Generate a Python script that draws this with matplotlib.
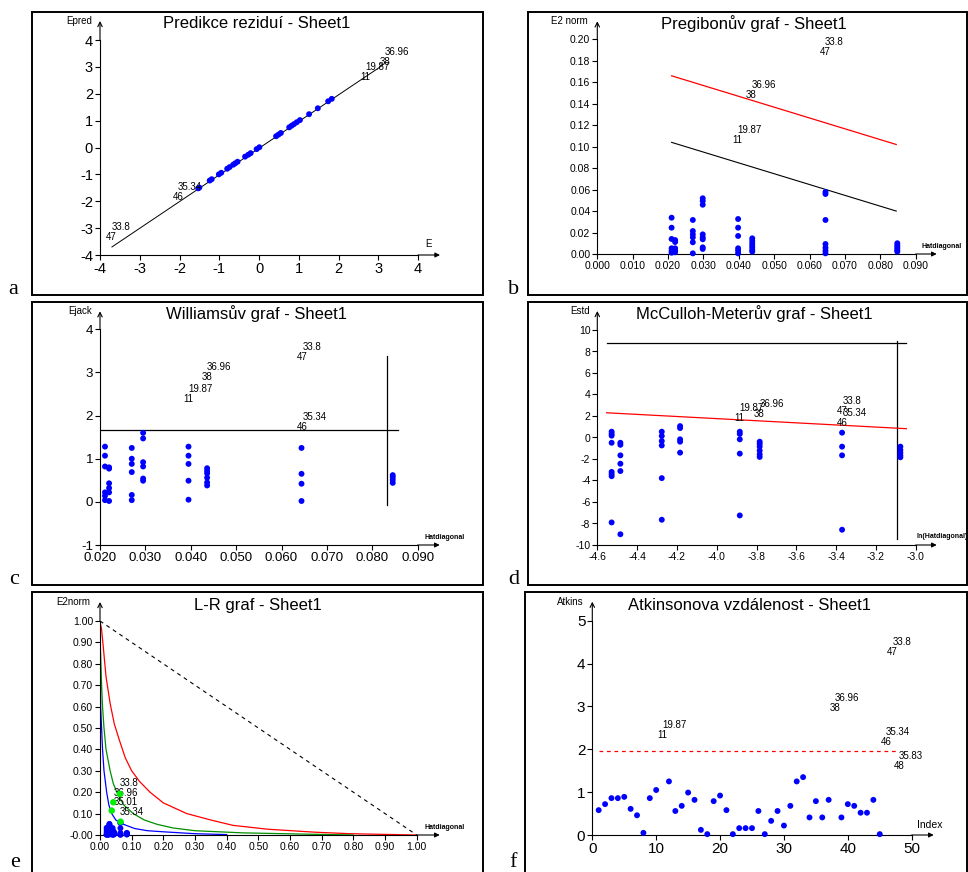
import matplotlib
matplotlib.use('Agg')
import matplotlib.pyplot as plt
from matplotlib.patches import Rectangle

plt.rcParams['font.family'] = ['Liberation Sans', 'DejaVu Sans']

W, H = 968, 872
BLUE = '#0000ff'
RED = '#ff0000'

# --- a) Predikce reziduí
a_e = [-1.53, -1.50, -1.24, -1.19, -1.01, -0.95, -0.80, -0.74, -0.65, -0.60, -0.54,
       -0.35, -0.27, -0.21, -0.06, 0.01, 0.43, 0.49, 0.55, 0.76, 0.82, 0.88, 0.95,
       1.03, 1.26, 1.48, 1.74, 1.83]
a_pred = [-1.52, -1.49, -1.23, -1.18, -1.00, -0.94, -0.79, -0.73, -0.64, -0.59, -0.53,
          -0.34, -0.27, -0.21, -0.06, 0.01, 0.42, 0.48, 0.54, 0.75, 0.81, 0.87, 0.94,
          1.02, 1.24, 1.46, 1.72, 1.81]
a_line_e = [-3.7, 3.1]
a_line_pred = [-3.7, 3.05]
a_out_x = [-3.71, -2.04, 2.67, 3.16]
a_out_y = [-3.53, -2.02, 2.45, 3.01]
a_out_val = ['33.8', '35.34', '19.87', '36.96']
a_out_idx = ['47', '46', '11', '38']
a_ticks = [-4, -3, -2, -1, 0, 1, 2, 3, 4]

# --- b) Pregibonův graf (hat diagonal vs. E2 norm), reused in e)
b_groups = [0.0210, 0.0220, 0.0270, 0.0298, 0.0398, 0.0438, 0.0645, 0.0848]
b_vals = [
    [0.0338, 0.0245, 0.0140, 0.0053, 0.0031, 0.0012],
    [0.0130, 0.0112, 0.0053, 0.0031, 0.0016],
    [0.0317, 0.0214, 0.0183, 0.0155, 0.0109, 0.0006],
    [0.0519, 0.0494, 0.0459, 0.0183, 0.0155, 0.0137, 0.0062, 0.0047],
    [0.0326, 0.0245, 0.0168, 0.0053, 0.0031, 0.0006],
    [0.0146, 0.0124, 0.0100, 0.0078, 0.0059, 0.0037, 0.0022],
    [0.0578, 0.0559, 0.0317, 0.0093, 0.0059, 0.0031, 0.0006],
    [0.0100, 0.0081, 0.0065, 0.0050, 0.0034, 0.0022],
]
b_red_x = [0.0210, 0.0845]
b_red_y = [0.166, 0.102]
b_black_x = [0.0210, 0.0845]
b_black_y = [0.104, 0.040]
b_out_x = [0.0643, 0.0436, 0.0396]
b_out_y = [0.1832, 0.1435, 0.1015]
b_out_val = ['33.8', '36.96', '19.87']
b_out_idx = ['47', '38', '11']
b_xticks = [0.0, 0.01, 0.02, 0.03, 0.04, 0.05, 0.06, 0.07, 0.08, 0.09]
b_yticks = [0.0, 0.02, 0.04, 0.06, 0.08, 0.10, 0.12, 0.14, 0.16, 0.18, 0.20]

# --- c) Williamsův graf
c_groups = [0.0211, 0.0220, 0.0270, 0.0295, 0.0395, 0.0436, 0.0644, 0.0845]
c_vals = [
    [1.28, 1.07, 0.82, 0.22, 0.14, 0.04],
    [0.80, 0.77, 0.43, 0.32, 0.22, 0.02],
    [1.25, 1.00, 0.88, 0.69, 0.16, 0.04],
    [1.60, 1.47, 0.92, 0.82, 0.54, 0.49],
    [1.28, 1.07, 0.88, 0.49, 0.05],
    [0.78, 0.72, 0.66, 0.56, 0.45, 0.38],
    [1.25, 0.65, 0.42, 0.02],
    [0.62, 0.57, 0.51, 0.44],
]
c_hline_x = [0.020, 0.0856]
c_hline_y = [1.67, 1.67]
c_vline_x = [0.0833, 0.0833]
c_vline_y = [3.37, -0.07]
c_out_x = [0.0646, 0.0435, 0.0395, 0.0646]
c_out_y = [3.25, 2.77, 2.27, 1.61]
c_out_val = ['33.8', '36.96', '19.87', '35.34']
c_out_idx = ['47', '38', '11', '46']
c_xticks = [0.02, 0.03, 0.04, 0.05, 0.06, 0.07, 0.08, 0.09]
c_yticks = [-1, 0, 1, 2, 3, 4]

# --- d) McCulloh-Meterův graf
d_groups = [-4.528, -4.484, -4.276, -4.184, -3.884, -3.784, -3.370, -3.077]
d_vals = [
    [0.54, 0.33, 0.17, -0.49, -3.2, -3.4, -3.6, -7.9],
    [-0.49, -0.68, -1.66, -2.44, -3.12, -9.0],
    [0.54, 0.14, -0.33, -0.74, -3.78, -7.65],
    [1.06, 0.88, -0.17, -0.39, -1.41],
    [0.54, 0.33, -0.17, -1.5, -7.25],
    [-0.39, -0.6, -0.85, -1.22, -1.56, -1.81],
    [0.45, -0.85, -1.66, -8.58],
    [-0.85, -1.16, -1.41, -1.66, -1.84],
]
d_red_x = [-4.553, -3.047]
d_red_y = [2.30, 0.82]
d_hline_x = [-4.553, -3.047]
d_hline_y = [8.82, 8.82]
d_vline_x = [-3.092, -3.092]
d_vline_y = [8.95, -9.4]
d_out_x = [-3.368, -3.368, -3.884, -3.785]
d_out_y = [2.0, 0.86, 1.38, 1.69]
d_out_val = ['33.8', '35.34', '19.87', '36.96']
d_out_idx = ['47', '46', '11', '38']
d_xticks = [-4.6, -4.4, -4.2, -4.0, -3.8, -3.6, -3.4, -3.2, -3.0]
d_yticks = [-10, -8, -6, -4, -2, 0, 2, 4, 6, 8, 10]

# --- e) L-R graf
e_red_x = [0.0, 0.005, 0.009, 0.014, 0.019, 0.032, 0.045, 0.061, 0.08, 0.10, 0.125,
           0.158, 0.20, 0.274, 0.35, 0.42, 0.53, 0.68, 0.79, 1.0]
e_red_y = [1.0, 0.96, 0.90, 0.82, 0.74, 0.615, 0.52, 0.444, 0.36, 0.30, 0.25,
           0.20, 0.15, 0.10, 0.07, 0.045, 0.027, 0.013, 0.006, 0.0]
e_green_x = [0.0, 0.003, 0.005, 0.008, 0.0126, 0.019, 0.032, 0.042, 0.053, 0.075,
             0.105, 0.14, 0.18, 0.23, 0.30, 0.45, 0.65, 0.80]
e_green_y = [0.93, 0.80, 0.70, 0.60, 0.50, 0.40, 0.30, 0.24, 0.20, 0.14,
             0.10, 0.07, 0.05, 0.033, 0.02, 0.01, 0.004, 0.0]
e_blue_x = [0.0, 0.002, 0.005, 0.008, 0.0126, 0.021, 0.028, 0.037, 0.05, 0.074,
            0.11, 0.15, 0.20, 0.30, 0.40]
e_blue_y = [0.94, 0.60, 0.50, 0.40, 0.30, 0.20, 0.14, 0.10, 0.07, 0.05,
            0.03, 0.02, 0.015, 0.006, 0.002]
e_diag_x = [0.0, 1.0]
e_diag_y = [1.0, 0.0]
e_pts_x = [0.063, 0.042, 0.037, 0.065]
e_pts_y = [0.192, 0.153, 0.114, 0.062]
e_lab_x = [0.063, 0.042, 0.042, 0.063]
e_lab_y = [0.218, 0.171, 0.132, 0.083]
e_lab = ['33.8', '36.96', '35.01', '35.34']
e_ticks = [0.0, 0.1, 0.2, 0.3, 0.4, 0.5, 0.6, 0.7, 0.8, 0.9, 1.0]

# --- f) Atkinsonova vzdálenost
f_idx = [1, 2, 3, 4, 5, 6, 7, 8, 9, 10, 12, 13, 14, 15, 16, 17, 18, 19, 20, 21, 22,
         23, 24, 25, 26, 27, 28, 29, 30, 31, 32, 33, 34, 35, 36, 37, 39, 40, 41, 42,
         43, 44, 45]
f_val = [0.58, 0.72, 0.86, 0.86, 0.89, 0.61, 0.46, 0.05, 0.86, 1.05, 1.25, 0.56, 0.68,
         0.99, 0.82, 0.12, 0.02, 0.79, 0.92, 0.58, 0.02, 0.16, 0.16, 0.16, 0.56, 0.02,
         0.33, 0.56, 0.22, 0.68, 1.25, 1.35, 0.41, 0.79, 0.41, 0.82, 0.41, 0.72, 0.68,
         0.52, 0.52, 0.82, 0.02]
f_limit_x = [1, 47.7]
f_limit_y = [1.96, 1.96]
f_out_x = [11, 38, 46, 47, 48]
f_out_y = [2.22, 2.85, 2.06, 4.15, 1.49]
f_out_val = ['19.87', '36.96', '35.34', '33.8', '35.83']
f_out_idx = ['11', '38', '46', '47', '48']
f_xticks = [0, 10, 20, 30, 40, 50]
f_yticks = [0, 1, 2, 3, 4, 5]

fig = plt.figure(figsize=(W / 100, H / 100), dpi=100)


def ftext(px, py, s, **kw):
    fig.text(px / W, 1 - py / H, s, **kw)


def add_ax(x0, x1, y_top, y_bot):
    ax = fig.add_axes([x0 / W, 1 - y_bot / H, (x1 - x0) / W, (y_bot - y_top) / H])
    ax.patch.set_visible(False)
    return ax


def style(ax, xt, xtl, yt, ytl, fs, up, right):
    ax.set_xlim(xt[0], xt[-1])
    ax.set_ylim(yt[0], yt[-1])
    for s in ('top', 'right'):
        ax.spines[s].set_visible(False)
    for s in ('left', 'bottom'):
        ax.spines[s].set_linewidth(0.8)
    ax.set_xticks(xt)
    ax.set_xticklabels(xtl, fontsize=fs)
    ax.set_yticks(yt)
    ax.set_yticklabels(ytl, fontsize=fs)
    ax.tick_params(length=3.5, width=0.8, pad=1.5)
    bb = ax.get_position()
    ax.annotate('', xy=(0, 1 + up / (bb.height * H)), xytext=(0, 1), xycoords='axes fraction',
                arrowprops=dict(arrowstyle='->', lw=0.8, color='black', shrinkA=0, shrinkB=0,
                                mutation_scale=8), annotation_clip=False)
    ax.annotate('', xy=(1 + right / (bb.width * W), 0), xytext=(1, 0), xycoords='axes fraction',
                arrowprops=dict(arrowstyle='-|>', lw=0.8, color='black', shrinkA=0, shrinkB=0,
                                mutation_scale=7), annotation_clip=False)


def outliers(ax, xs, ys, vals, idxs, fs=7):
    for x, y, v, i in zip(xs, ys, vals, idxs):
        ax.text(x, y, i, ha='center', va='bottom', fontsize=fs, clip_on=False)
        ax.annotate(v, (x, y), xytext=(0, 7.2), textcoords='offset points',
                    ha='left', va='bottom', fontsize=fs, annotation_clip=False)


def dots(ax, xs, ys, color=BLUE, s=18):
    ax.scatter(xs, ys, s=s, c=color, edgecolors='none', zorder=3, clip_on=False)


def flatten(groups, vals):
    xs, ys = [], []
    for g, vs in zip(groups, vals):
        xs += [g] * len(vs)
        ys += vs
    return xs, ys


# panel frames and letters
frames = [(32, 12, 483, 295), (528, 12, 967, 295), (32, 302, 483, 585),
          (528, 302, 967, 585), (32, 592, 483, 880), (525, 592, 967, 880)]
for x0, y0, x1, y1 in frames:
    fig.add_artist(Rectangle((x0 / W, 1 - y1 / H), (x1 - x0) / W, (y1 - y0) / H,
                             transform=fig.transFigure, fill=False, lw=1.4, ec='black'))
for s, px, py in [('a', 13, 294), ('b', 514, 294), ('c', 14, 584), ('d', 514, 584),
                  ('e', 15, 867), ('f', 513, 867)]:
    ftext(px, py, s, family=['Liberation Serif', 'DejaVu Serif'], fontsize=16,
          ha='center', va='baseline')

TFS = 12

# a
ax = add_ax(100, 418, 40, 255)
style(ax, a_ticks, [str(t) for t in a_ticks], a_ticks, [str(t) for t in a_ticks], 10.5, 19, 22)
ax.plot(a_line_e, a_line_pred, color='black', lw=0.7)
dots(ax, a_e, a_pred)
outliers(ax, a_out_x, a_out_y, a_out_val, a_out_idx)
ftext(257, 24, 'Predikce reziduí - Sheet1', fontsize=TFS, ha='center', va='center')
ftext(92, 21.5, 'Epred', fontsize=7, ha='right', va='center')
ftext(428, 244, 'E', fontsize=7, ha='center', va='center')

# b
ax = add_ax(597.3, 915.7, 39.3, 254)
style(ax, b_xticks, [f'{t:.3f}' for t in b_xticks], b_yticks, [f'{t:.2f}' for t in b_yticks],
      7.5, 18, 21)
ax.plot(b_red_x, b_red_y, color=RED, lw=0.9)
ax.plot(b_black_x, b_black_y, color='black', lw=0.8)
bx, by = flatten(b_groups, b_vals)
dots(ax, bx, by)
outliers(ax, b_out_x, b_out_y, b_out_val, b_out_idx)
ftext(753.5, 24, 'Pregibonův graf - Sheet1', fontsize=TFS, ha='center', va='center')
ftext(588, 21.5, 'E2 norm', fontsize=7, ha='right', va='center')
ftext(942, 246, 'Hatdiagonal', fontsize=5, weight='bold', ha='center', va='center')

# c
ax = add_ax(100, 417.7, 329.3, 545)
style(ax, c_xticks, [f'{t:.3f}' for t in c_xticks], c_yticks, [str(t) for t in c_yticks],
      9.5, 18, 22)
ax.plot(c_hline_x, c_hline_y, color='black', lw=0.9)
ax.plot(c_vline_x, c_vline_y, color='black', lw=0.9)
cx, cy = flatten(c_groups, c_vals)
dots(ax, cx, cy)
outliers(ax, c_out_x, c_out_y, c_out_val, c_out_idx)
ftext(257, 314, 'Williamsův graf - Sheet1', fontsize=TFS, ha='center', va='center')
ftext(92, 311.5, 'Ejack', fontsize=7, ha='right', va='center')
ftext(445, 537, 'Hatdiagonal', fontsize=5, weight='bold', ha='center', va='center')

# d
ax = add_ax(597.3, 915.7, 330, 545)
style(ax, d_xticks, [f'{t:.1f}' for t in d_xticks], d_yticks, [str(t) for t in d_yticks],
      7.5, 19, 21)
ax.plot(d_hline_x, d_hline_y, color='black', lw=0.9)
ax.plot(d_vline_x, d_vline_y, color='black', lw=0.9)
ax.plot(d_red_x, d_red_y, color=RED, lw=0.9)
dx, dy = flatten(d_groups, d_vals)
dots(ax, dx, dy)
outliers(ax, d_out_x, d_out_y, d_out_val, d_out_idx)
ftext(754.5, 314, 'McCulloh-Meterův graf - Sheet1', fontsize=TFS, ha='center', va='center')
ftext(590, 311.5, 'Estd', fontsize=7, ha='right', va='center')
ftext(942, 536, 'ln(Hatdiagonal)', fontsize=5, weight='bold', ha='center', va='center')

# e
ax = add_ax(100, 416.7, 621, 835)
e_ylabels = [f'{t:.2f}' for t in e_ticks]
e_ylabels[0] = '-0.00'
style(ax, e_ticks, [f'{t:.2f}' for t in e_ticks], e_ticks, e_ylabels, 7.5, 19, 23)
ax.plot(e_diag_x, e_diag_y, color='black', lw=0.8, dashes=(3.5, 3.5))
ax.plot(e_red_x, e_red_y, color=RED, lw=0.9)
ax.plot(e_green_x, e_green_y, color='#009000', lw=0.9)
ax.plot(e_blue_x, e_blue_y, color=BLUE, lw=0.9)
dots(ax, bx, by)
for x, y, s in zip(e_lab_x, e_lab_y, e_lab):
    ax.text(x, y, s, ha='left', va='bottom', fontsize=7)
dots(ax, e_pts_x, e_pts_y, color='#00ee00', s=22)
ftext(257.5, 605, 'L-R graf - Sheet1', fontsize=TFS, ha='center', va='center')
ftext(90.7, 602, 'E2norm', fontsize=7, ha='right', va='center')
ftext(445, 827.5, 'Hatdiagonal', fontsize=5, weight='bold', ha='center', va='center')

# f
ax = add_ax(592.3, 911.7, 620.7, 835)
style(ax, f_xticks, [str(t) for t in f_xticks], f_yticks, [str(t) for t in f_yticks],
      11, 19, 22)
ax.plot(f_limit_x, f_limit_y, color=RED, lw=0.9, dashes=(3, 3))
dots(ax, f_idx, f_val)
outliers(ax, f_out_x, f_out_y, f_out_val, f_out_idx)
ftext(749.5, 605, 'Atkinsonova vzdálenost - Sheet1', fontsize=TFS, ha='center', va='center')
ftext(584, 602, 'Atkins', fontsize=7, ha='right', va='center')
ftext(930, 825, 'Index', fontsize=7.5, ha='center', va='center')

fig.savefig('out.png', dpi=100)
